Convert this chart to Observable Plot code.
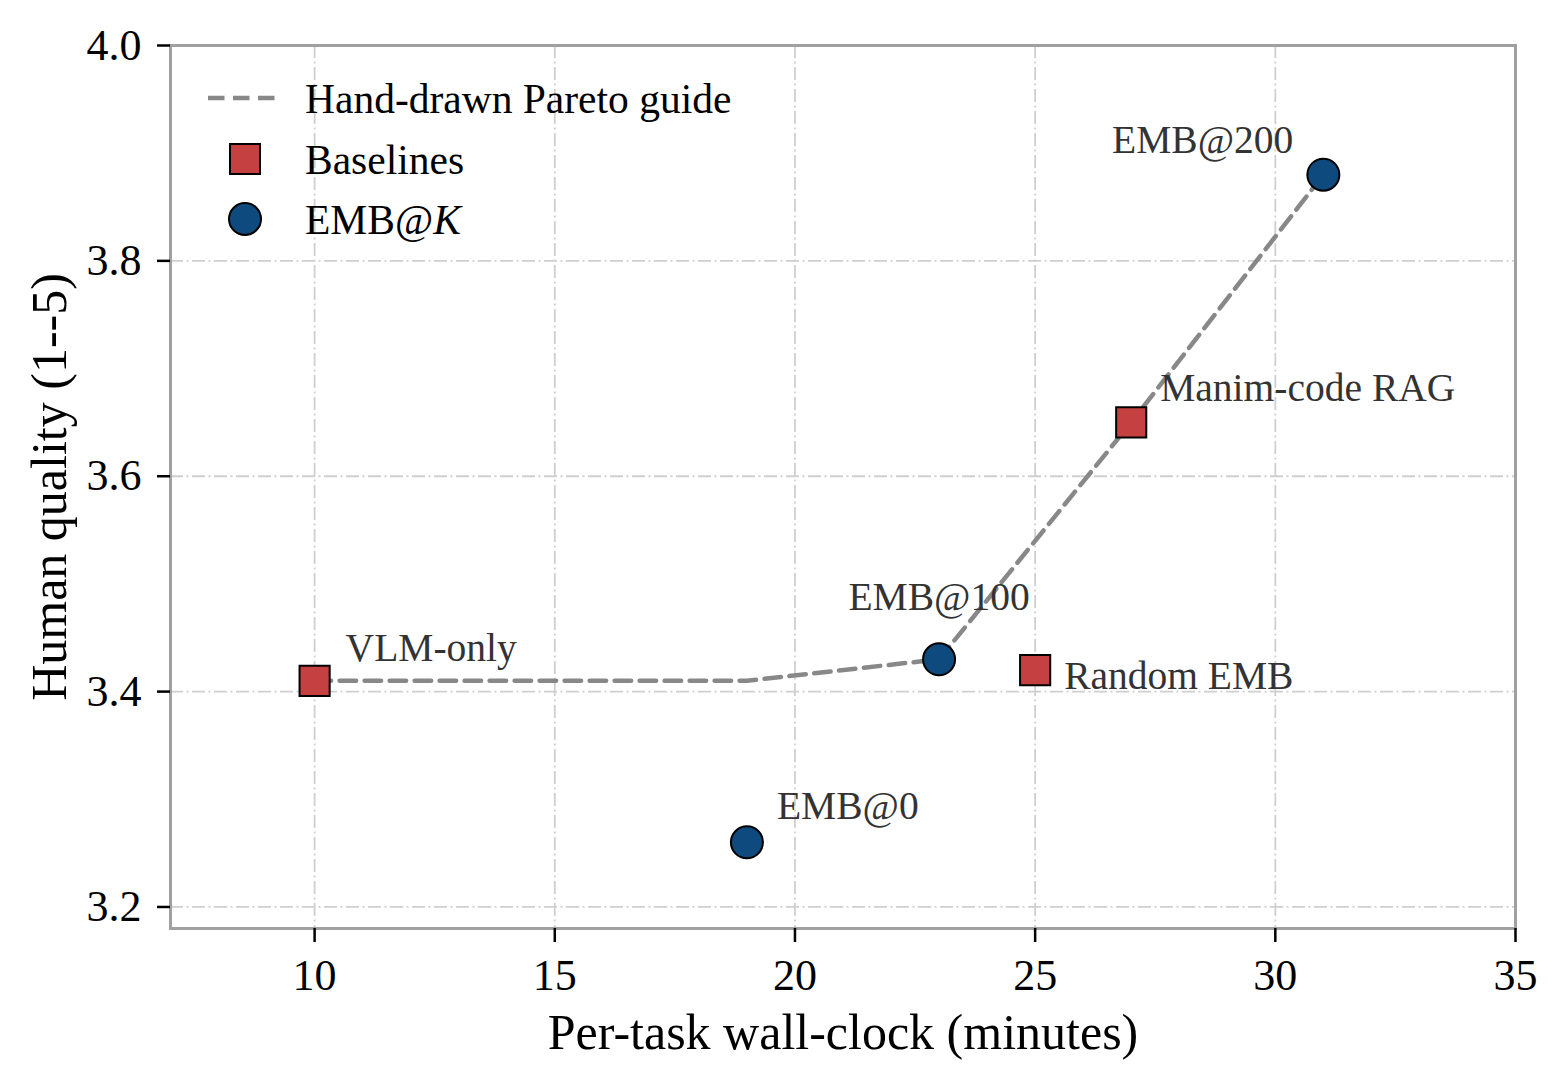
<!DOCTYPE html>
<html><head><meta charset="utf-8">
<script src="https://cdn.jsdelivr.net/npm/d3@7"></script>
<script src="https://cdn.jsdelivr.net/npm/@observablehq/plot@0.6"></script>
<style>
body{margin:0;background:#fff}
#wrap{position:relative;width:1568px;height:1090px;font-family:"Liberation Serif","DejaVu Serif",serif}
#legend{position:absolute;left:0;top:0;pointer-events:none}
</style>
</head><body><div id="wrap"></div>
<script>
// ---- data ----
const methods = ["VLM-only", "EMB@0", "EMB@100", "Random EMB", "Manim-code RAG", "EMB@200"];
const groups = ["Baselines", "EMB@K", "EMB@K", "Baselines", "Baselines", "EMB@K"];
const minutes = [10, 19, 23, 25, 27, 31];
const quality = [3.41, 3.26, 3.43, 3.42, 3.65, 3.88];
const paretoMinutes = [10, 19, 23, 27, 31];
const paretoQuality = [3.41, 3.41, 3.43, 3.65, 3.88];
const xTicks = [10, 15, 20, 25, 30, 35];
const yTicks = [3.2, 3.4, 3.6, 3.8, 4.0];
const xLabel = "Per-task wall-clock (minutes)";
const yLabel = "Human quality (1--5)";
const legendLabels = ["Hand-drawn Pareto guide", "Baselines", "EMB@"];

// ---- layout / style ----
const labelPlacement = {
  "VLM-only": {anchor: "start", dx: 31, dy: -32},
  "EMB@0": {anchor: "start", dx: 30, dy: -36},
  "EMB@100": {anchor: "middle", dx: 0, dy: -62},
  "Random EMB": {anchor: "start", dx: 29, dy: 6},
  "Manim-code RAG": {anchor: "start", dx: 29, dy: -34},
  "EMB@200": {anchor: "end", dx: -30, dy: -34}
};
const RED = "#c44041", BLUE = "#0f4a7e";
const PARETO = {stroke: "#888", strokeWidth: 4.5, dash: "16.5,8.5"};
const GRID = {stroke: "#cfcfcf", strokeOpacity: 1, strokeWidth: 1.8, strokeDasharray: "13,3.5,2,3.5"};

const points = methods.map((m, i) => ({method: m, group: groups[i], x: minutes[i], y: quality[i]}));
const pareto = paretoMinutes.map((x, i) => ({x, y: paretoQuality[i]}));

const labelMarks = points.map(p => {
  const L = labelPlacement[p.method];
  return Plot.text([p], {x: "x", y: "y", text: "method", textAnchor: L.anchor, dx: L.dx, dy: L.dy,
    fontSize: 39.5, fill: "#333", lineAnchor: "middle"});
});

const chart = Plot.plot({
  width: 1568, height: 1090,
  marginLeft: 170, marginRight: 53, marginTop: 45, marginBottom: 162,
  style: {fontFamily: "'Liberation Serif', serif", fontSize: "44px", background: "#fff", color: "#000"},
  x: {domain: [7, 35], ticks: xTicks, label: xLabel},
  y: {domain: [3.18, 4.0], ticks: yTicks, label: yLabel, tickFormat: d3.format(".1f")},
  marks: [
    Plot.gridX(xTicks, GRID),
    Plot.gridY(yTicks, GRID),
    Plot.frame({stroke: "#a0a0a0", strokeWidth: 3}),
    Plot.axisX(xTicks, {tickSize: 14, tickPadding: 16, strokeWidth: 2.5, fontSize: 44, label: null}),
    Plot.axisY(yTicks, {tickSize: 13, tickPadding: 16, strokeWidth: 2.5, fontSize: 44,
      tickFormat: d3.format(".1f"), label: null}),
    Plot.axisX([], {tickSize: 0, fontSize: 50, label: xLabel, labelAnchor: "center", labelOffset: 120, labelArrow: "none"}),
    Plot.axisY([], {tickSize: 0, fontSize: 50, label: yLabel, labelAnchor: "center", labelOffset: 140, labelArrow: "none"}),
    Plot.line(pareto, {x: "x", y: "y", stroke: PARETO.stroke, strokeWidth: PARETO.strokeWidth, strokeDasharray: PARETO.dash}),
    Plot.dot(points.filter(p => p.group === "Baselines"), {x: "x", y: "y", symbol: "square", r: 17,
      fill: RED, stroke: "#000", strokeWidth: 2}),
    Plot.dot(points.filter(p => p.group === "EMB@K"), {x: "x", y: "y", symbol: "circle", r: 16,
      fill: BLUE, stroke: "#000", strokeWidth: 2}),
    ...labelMarks
  ]
});

const wrap = document.getElementById("wrap");
wrap.appendChild(chart);

// legend overlay (inside plot area, top-left)
const lg = d3.select(wrap).append("svg").attr("id", "legend").attr("width", 1568).attr("height", 1090)
  .style("font-family", "'Liberation Serif', serif").style("font-size", "41.5px");
const rows = [98, 159, 219];
lg.append("line").attr("x1", 208).attr("x2", 282).attr("y1", rows[0]).attr("y2", rows[0])
  .attr("stroke", PARETO.stroke).attr("stroke-width", PARETO.strokeWidth).attr("stroke-dasharray", PARETO.dash);
lg.append("rect").attr("x", 230).attr("y", rows[1] - 15).attr("width", 30).attr("height", 30)
  .attr("fill", RED).attr("stroke", "#000").attr("stroke-width", 2);
lg.append("circle").attr("cx", 245).attr("cy", rows[2]).attr("r", 16)
  .attr("fill", BLUE).attr("stroke", "#000").attr("stroke-width", 2);
legendLabels.forEach((t, i) => {
  const txt = lg.append("text").attr("x", 305).attr("y", rows[i]).attr("dy", "0.35em").attr("fill", "#000").text(t);
  if (i === 2) txt.append("tspan").attr("font-style", "italic").text("K");
});
</script>
</body></html>
